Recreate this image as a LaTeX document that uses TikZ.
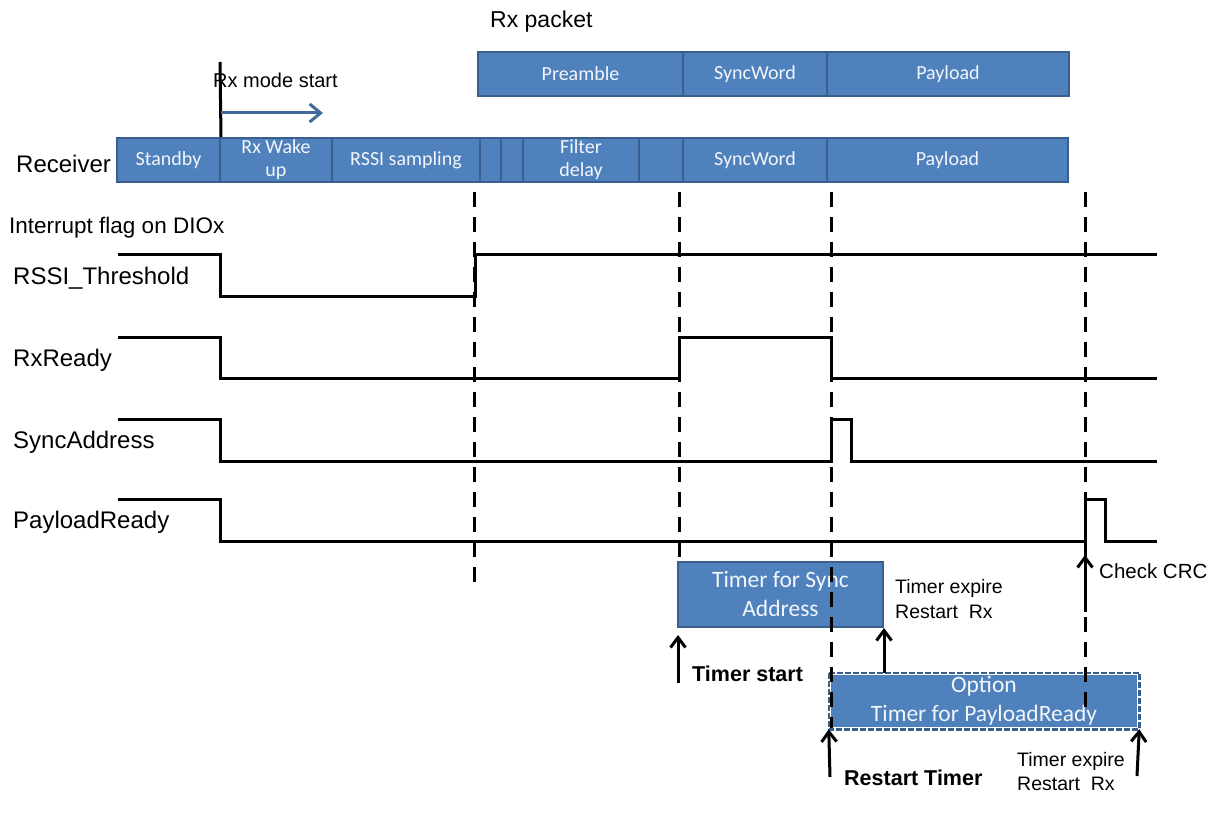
\documentclass[tikz,border=0pt]{standalone}
\usepackage{fontspec}
\setmainfont{Liberation Sans}
\newfontfamily\boxfont{Carlito}
\usetikzlibrary{arrows.meta}
\definecolor{cellfill}{HTML}{4F81BD}
\definecolor{celledge}{HTML}{3A5F8C}
\definecolor{flowblue}{HTML}{41699A}
\definecolor{boxtext}{HTML}{F2F5FA}

\begin{document}
\begin{tikzpicture}[x=1pt,y=-1pt,
  cell/.style={draw=celledge, line width=2pt, fill=cellfill, text=boxtext,
    font=\boxfont\fontsize{20}{23}\selectfont, align=center, inner sep=0pt,
    minimum height=44pt},
  timerbox/.style={fill=cellfill, text=boxtext, inner sep=0pt, align=center,
    font=\boxfont\fontsize{23.5}{29}\selectfont},
  lbl/.style={anchor=base west, inner sep=0pt, font=\fontsize{24}{28}\selectfont},
  note/.style={anchor=base west, inner sep=0pt, align=left,
    font=\fontsize{19.5}{24.5}\selectfont},
  boldnote/.style={anchor=base west, inner sep=0pt,
    font=\bfseries\fontsize{21.5}{26}\selectfont},
  wave/.style={line width=3pt, line join=miter},
  marker/.style={line width=3pt, dash pattern=on 15pt off 10pt},
  uparrow/.style={line width=3pt, -{Straight Barb[length=10pt,width=15pt,line width=3pt]}},
  flow/.style={line width=3pt, draw=flowblue, -{Straight Barb[length=11pt,width=18pt,line width=3pt]}}
]
\useasboundingbox (0,0) rectangle (1211,818);

% ---- packet on air ----
\node[anchor=base west, inner sep=0pt, font=\fontsize{23}{27}\selectfont] (rxpacket) at (490,28) {Rx packet};
\node[cell, minimum width=205pt] (pre)   at (580.5,74) {Preamble};
\node[cell, minimum width=144pt] (psync) at (755,74)   {SyncWord};
\node[cell, minimum width=242pt] (ppay)  at (948,74)   {Payload};

% ---- receiver state sequence ----
\node[cell, minimum width=103pt] (standby) at (168.5,160) {Standby};
\node[cell, minimum width=112pt] (wake)    at (276,160)   {Rx Wake\\up};
\node[cell, minimum width=148pt] (rssi)    at (406,160)   {RSSI sampling};
\node[cell, minimum width=21pt]  (gapa)    at (490.5,160) {};
\node[cell, minimum width=22pt]  (gapb)    at (512,160)   {};
\node[cell, minimum width=116pt] (filter)  at (581,160)   {Filter\\delay};
\node[cell, minimum width=44pt]  (gapc)    at (661,160)   {};
\node[cell, minimum width=144pt] (rsync)   at (755,160)   {SyncWord};
\node[cell, minimum width=241pt] (rpay)    at (947.5,160) {Payload};

% ---- Rx mode start marker ----
\coordinate (mtop) at (220,62);
\draw[line width=3pt] (mtop) -- (standby.north east);
\node[anchor=base west, inner sep=0pt, font=\fontsize{20}{24}\selectfont] (rxmode) at (213,88) {Rx mode start};
\coordinate (fa) at (221,113);
\coordinate (fb) at (323,113);
\draw[flow] (fa) -- (fb);

% ---- signal names ----
\node[lbl] (lrecv) at (16,173) {Receiver};
\node[lbl, font=\fontsize{22.5}{27}\selectfont] (lirq) at (9,233.5) {Interrupt flag on DIOx};
\node[lbl] (lrssi) at (13,285) {RSSI\_Threshold};
\node[lbl] (lrdy)  at (13,366.7) {RxReady};
\node[lbl] (lsync) at (13,448.3) {SyncAddress};
\node[lbl] (lpay)  at (13,528.3) {PayloadReady};

% ---- waveforms ----
\draw[wave] (118,255) -- (220,255) -- (220,297) -- (475,297) -- (475,255) -- (1157,255);
\draw[wave] (118,338) -- (220,338) -- (220,379) -- (679,379) -- (679,338) -- (831,338) -- (831,379) -- (1157,379);
\draw[wave] (118,420) -- (220,420) -- (220,461) -- (831,461) -- (831,420) -- (851,420) -- (851,461) -- (1157,461);
\draw[wave] (118,499) -- (220,499) -- (220,541) -- (1085,541) -- (1085,499) -- (1105,499) -- (1105,541) -- (1157,541);

% ---- timers ----
\node[timerbox, draw=celledge, line width=2pt, minimum width=205pt, minimum height=65pt]
  (tsync) at (780.5,594.5) {Timer for Sync\\Address};
\node[timerbox, draw=white, line width=2.5pt, minimum width=308pt, minimum height=54pt]
  (opt) at (984,701) {Option\\Timer for PayloadReady};
\draw[celledge, line width=2.5pt, dash pattern=on 6pt off 2pt] (opt.north west) rectangle (opt.south east);

% ---- event markers ----
\draw[marker] (474,192) -- (474,582);
\draw[marker] (679,192) -- (679,562);
\draw[marker] (831,192) -- (831,728);
\draw[marker] (1085,192) -- (1085,712);

% ---- arrows and notes ----
\coordinate (tsa) at (678,683);
\coordinate (tsb) at (678,635);
\draw[uparrow] (tsa) -- (tsb);
\node[boldnote] (tstart) at (692,681.5) {Timer start};

\draw[uparrow] (tsync.south east |- opt.north) -- (tsync.south east);
\node[note] (exp1) at (895,618) {Timer expire\\Restart~ Rx};

\coordinate (rta) at (830,777);
\draw[uparrow] (rta) -- (opt.south west);
\node[boldnote] (rtimer) at (844,785) {Restart Timer};

\coordinate (exa) at (1137,776);
\draw[uparrow] (exa) -- (opt.south east);
\node[note] (exp2) at (1017,790.5) {Timer expire\\Restart~ Rx};

\coordinate (cca) at (1085,612);
\coordinate (ccb) at (1085,555);
\draw[uparrow] (cca) -- (ccb);
\node[note, font=\fontsize{20.5}{24}\selectfont] (crc) at (1099,578) {Check CRC};
\end{tikzpicture}
\end{document}
